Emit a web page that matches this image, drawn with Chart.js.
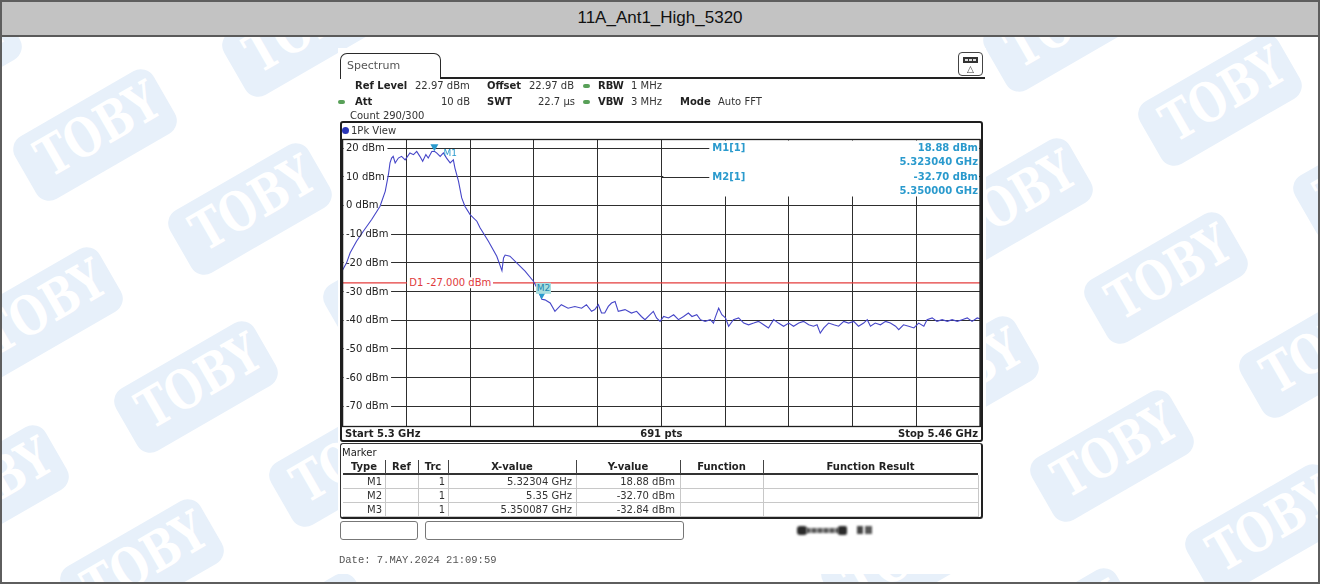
<!DOCTYPE html>
<html>
<head>
<meta charset="utf-8">
<title>11A_Ant1_High_5320</title>
<script src="https://cdn.jsdelivr.net/npm/chart.js@4.4.1/dist/chart.umd.min.js"></script>
<style>
  html, body { margin: 0; padding: 0; background: #fff; }
  body { width: 1320px; height: 584px; position: relative; overflow: hidden; font-family: "DejaVu Sans", sans-serif; }
  .abs { position: absolute; box-sizing: border-box; }
  #outer { left: 0; top: 0; width: 1320px; height: 584px; border: 2px solid #5e5e5e; z-index: 9; pointer-events: none; }
  #titlebar { left: 0; top: 0; width: 1320px; height: 37px; background: #c3c3c3; border-bottom: 2px solid #5a5a5a; z-index: 4;
              font-family: "Liberation Sans", Arial, sans-serif; font-size: 17px; color: #111; text-align: center; line-height: 36px; }
  #wm { left: 0; top: 37px; width: 1320px; height: 547px; overflow: hidden; z-index: 0; }
  .wmk { position: absolute; width: 160px; height: 72px; background: #e7f0fa; border-radius: 15px; color: #fff;
         text-align: center; line-height: 74px; transform: translate(-50%, -50%) rotate(-30deg); }
  .wmk span { display: inline-block; font: bold 54px "DejaVu Serif", serif; transform: scaleX(0.78); }
  #screen { left: 338px; top: 48px; width: 648px; height: 526px; background: #fff; z-index: 1; }
  #cv { position: absolute; left: 0; top: 0; z-index: 2; }
  #layer { left: 0; top: 0; width: 1320px; height: 584px; z-index: 3; pointer-events: none; }
  .t { position: absolute; white-space: nowrap; font-size: 10px; line-height: 1.15; color: #222; transform: translateY(-50%); }
  .b { font-weight: bold; }
  .box { position: absolute; box-sizing: border-box; }
</style>
</head>
<body>
<div id="outer" class="abs"></div>
<div id="titlebar" class="abs">11A_Ant1_High_5320</div>
<div id="wm" class="abs"></div>
<div id="screen" class="abs"></div>
<canvas id="cv" width="1320" height="584" style="width:1320px;height:584px"></canvas>
<div id="layer" class="abs"></div>

<script>
// ---- sweep settings ----
const startGHz = 5.3;
const stopGHz = 5.46;
const refLevel = 22.97;      // dBm, top of the display
const rangeDb = 100;         // dB shown over the 10 divisions
const sweepPoints = 691;
const d1Level = -27.0;       // display line D1

// ---- grid ----
const freqGrid = [5.3, 5.316, 5.332, 5.348, 5.364, 5.38, 5.396, 5.412, 5.428, 5.444, 5.46];
const levelTicks = [20, 10, 0, -10, -20, -30, -40, -50, -60, -70];
const levelLabels = ['20 dBm', '10 dBm', '0 dBm', '-10 dBm', '-20 dBm', '-30 dBm', '-40 dBm', '-50 dBm', '-60 dBm', '-70 dBm'];

// ---- trace 1 (1Pk View) ----
const traceGHz = [
  5.3000, 5.3010, 5.3019, 5.3035, 5.3052, 5.3073, 5.3094, 5.3107, 5.3115, 5.3119,
  5.3123, 5.3127, 5.3132, 5.3140, 5.3148, 5.3157, 5.3169, 5.3178, 5.3186, 5.3194,
  5.3201, 5.3209, 5.3215, 5.3224, 5.32304, 5.3236, 5.3245, 5.3253, 5.3261, 5.3270,
  5.3278, 5.3282, 5.3291, 5.3299, 5.3307, 5.3320, 5.3337, 5.3345, 5.3366, 5.3387,
  5.3400, 5.3404, 5.3408, 5.3420, 5.3437, 5.3458, 5.3479, 5.3492, 5.3500, 5.3508,
  5.3521, 5.3533, 5.3549, 5.3566, 5.3583, 5.3600, 5.3612, 5.3625, 5.3633, 5.3642,
  5.3650, 5.3658, 5.3667, 5.3675, 5.3684, 5.3692, 5.3709, 5.3725, 5.3738, 5.3750,
  5.3759, 5.3771, 5.3780, 5.3788, 5.3797, 5.3806, 5.3818, 5.3831, 5.3843, 5.3856,
  5.3868, 5.3877, 5.3889, 5.3898, 5.3910, 5.3923, 5.3931, 5.3935, 5.3944, 5.3952,
  5.3961, 5.3969, 5.3981, 5.3994, 5.4007, 5.4019, 5.4032, 5.4044, 5.4057, 5.4069,
  5.4082, 5.4094, 5.4107, 5.4120, 5.4132, 5.4145, 5.4157, 5.4170, 5.4182, 5.4191,
  5.4199, 5.4208, 5.4220, 5.4233, 5.4245, 5.4258, 5.4270, 5.4283, 5.4295, 5.4308,
  5.4317, 5.4325, 5.4337, 5.4350, 5.4363, 5.4375, 5.4388, 5.4396, 5.4408, 5.4421,
  5.4434, 5.4446, 5.4459, 5.4467, 5.4480, 5.4492, 5.4505, 5.4518, 5.4530, 5.4543,
  5.4555, 5.4568, 5.4580, 5.4593, 5.4600
];
const traceDbm = [
  -22.5, -20.0, -16.5, -12.5, -9.0, -4.9, -0.3, 4.9, 10.7, 14.8,
  16.5, 17.1, 14.8, 16.5, 17.1, 15.9, 18.3, 17.7, 18.8, 17.1,
  15.4, 17.7, 16.5, 18.8, 18.88, 18.3, 17.1, 18.3, 16.5, 14.8,
  15.9, 13.0, 8.4, 2.6, -0.3, -3.2, -5.5, -7.8, -12.5, -17.7,
  -22.7, -18.3, -17.3, -17.7, -20.0, -22.9, -26.4, -29.8, -32.7, -32.9,
  -34.0, -36.9, -34.6, -35.8, -35.2, -35.8, -34.6, -36.9, -36.3, -34.6,
  -37.5, -37.5, -35.2, -34.0, -33.5, -36.9, -36.3, -37.5, -36.9, -38.7,
  -39.8, -38.1, -36.9, -39.2, -40.4, -38.7, -39.2, -38.1, -39.8, -38.7,
  -37.5, -38.7, -38.1, -39.8, -40.4, -39.8, -41.0, -39.2, -35.8, -38.1,
  -39.2, -42.1, -39.8, -39.2, -41.0, -41.6, -41.0, -40.4, -41.6, -42.7,
  -39.8, -41.0, -42.1, -41.0, -42.1, -41.0, -40.4, -41.6, -42.1, -41.6,
  -44.5, -42.7, -41.0, -41.6, -42.1, -40.4, -41.0, -40.4, -42.1, -41.0,
  -39.8, -42.1, -41.0, -41.6, -40.4, -41.0, -42.1, -43.3, -41.6, -42.1,
  -42.7, -41.0, -42.1, -39.8, -39.2, -40.4, -39.8, -40.4, -39.8, -40.4,
  -39.8, -39.2, -40.4, -39.2, -39.5
];

// ---- markers ----
const markerNames = ['M1', 'M2', 'M3'];
const markerFreq = [5.32304, 5.35, 5.350087];
const markerLevel = [18.88, -32.70, -32.84];

const W = 1320;
const layer = document.getElementById('layer');
const markerColor = '#2a9acd';

function addText(txt, x, y, o = {}) {
  const el = document.createElement('div');
  el.className = 't' + (o.bold ? ' b' : '');
  el.textContent = txt;
  el.style.top = y + 'px';
  if (o.align === 'right') el.style.right = (W - x) + 'px';
  else if (o.align === 'center') { el.style.left = x + 'px'; el.style.transform = 'translate(-50%,-50%)'; }
  else el.style.left = x + 'px';
  if (o.size) el.style.fontSize = o.size + 'px';
  if (o.color) el.style.color = o.color;
  if (o.bg) { el.style.background = o.bg; el.style.padding = o.pad || '0 1px'; }
  if (o.font) el.style.fontFamily = o.font;
  layer.appendChild(el);
  return el;
}
function addBox(x, y, w, h, css) {
  const el = document.createElement('div');
  el.className = 'box';
  Object.assign(el.style, { left: x + 'px', top: y + 'px', width: w + 'px', height: h + 'px' }, css || {});
  layer.appendChild(el);
  return el;
}

// background "TOBY" stamps on a slanted lattice, one patch either side of the analyzer screen
const wm = document.getElementById('wm');
const stepP = [155, 74], stepQ = [54, -178];
[{ origin: [95, 135], xMin: -110, xMax: 430 }, { origin: [1220, 100], xMin: 890, xMax: 1420 }].forEach(patch => {
  for (let k = -4; k <= 4; k++) {
    for (let m = -4; m <= 4; m++) {
      const x = patch.origin[0] + k * stepP[0] + m * stepQ[0];
      const y = patch.origin[1] + k * stepP[1] + m * stepQ[1];
      if (x < patch.xMin || x > patch.xMax || y < -40 || y > 660) continue;
      const s = document.createElement('div');
      s.className = 'wmk';
      const inner = document.createElement('span');
      inner.textContent = 'TOBY';
      s.appendChild(inner);
      s.style.left = x + 'px';
      s.style.top = (y - 37) + 'px';
      wm.appendChild(s);
    }
  }
});

// plot-area decorations: label gaps, readout panel, plot border, marker symbols
const screenPlugin = {
  id: 'screen',
  beforeDatasetsDraw(chart) {
    const { ctx, chartArea: a, scales: { x, y } } = chart;
    ctx.save();
    ctx.fillStyle = '#fff';
    ctx.font = '10px "DejaVu Sans"';
    levelTicks.forEach((v, i) => {
      const py = y.getPixelForValue(v);
      const w = ctx.measureText(levelLabels[i]).width;
      ctx.fillRect(a.left + 1, py - 2.5, w + 5, 5);
    });
    // marker readout panel in the upper right corner
    const panelLeft = x.getPixelForValue(freqGrid[5]) + 2;
    const panelBottom = a.top + 57;
    ctx.fillRect(panelLeft, a.top + 1, a.right - panelLeft - 1, panelBottom - a.top - 1);
    ctx.strokeStyle = '#2e2e2e';
    ctx.lineWidth = 1;
    [levelTicks[0], levelTicks[1]].forEach(v => {
      const py = Math.round(y.getPixelForValue(v)) + 0.5;
      ctx.beginPath(); ctx.moveTo(panelLeft - 2, py); ctx.lineTo(panelLeft + 46, py); ctx.stroke();
    });
    ctx.restore();
  },
  afterDatasetsDraw(chart) {
    const { ctx, chartArea: a, scales: { x, y } } = chart;
    ctx.save();
    ctx.fillStyle = markerColor;
    [0, 1].forEach(i => {
      const px = x.getPixelForValue(markerFreq[i]);
      const py = y.getPixelForValue(markerLevel[i]);
      ctx.beginPath();
      ctx.moveTo(px, py);
      ctx.lineTo(px - 4, py - 7);
      ctx.lineTo(px + 4, py - 7);
      ctx.closePath();
      ctx.fill();
    });
    ctx.strokeStyle = '#1e1e1e';
    ctx.lineWidth = 1.3;
    ctx.strokeRect(a.left, a.top, a.right - a.left, a.bottom - a.top);
    ctx.restore();
  }
};

const chart = new Chart(document.getElementById('cv'), {
  type: 'line',
  data: {
    datasets: [
      {
        label: 'Trc 1',
        data: traceGHz.map((f, i) => ({ x: f, y: traceDbm[i] })),
        borderColor: '#4646c8', borderWidth: 1.1, pointRadius: 0, tension: 0, order: 1
      },
      {
        label: 'D1',
        data: [{ x: startGHz, y: d1Level }, { x: stopGHz, y: d1Level }],
        borderColor: '#e43c3c', borderWidth: 1.1, pointRadius: 0, order: 2
      }
    ]
  },
  options: {
    responsive: false,
    animation: false,
    devicePixelRatio: 1,
    events: [],
    layout: { padding: { left: 342.6, right: 340, top: 139.5, bottom: 157.5 } },
    plugins: { legend: { display: false }, tooltip: { enabled: false } },
    scales: {
      x: {
        type: 'linear', min: startGHz, max: stopGHz,
        afterBuildTicks: s => { s.ticks = freqGrid.map(v => ({ value: v })); },
        afterFit: s => { s.height = 0; },
        ticks: { display: false },
        grid: { color: '#2e2e2e', lineWidth: 1, drawTicks: false },
        border: { display: false }
      },
      y: {
        type: 'linear', min: refLevel - rangeDb, max: refLevel,
        afterBuildTicks: s => { s.ticks = levelTicks.map(v => ({ value: v })); },
        afterFit: s => { s.width = 0; },
        ticks: { display: false },
        grid: { color: '#2e2e2e', lineWidth: 1, drawTicks: false },
        border: { display: false }
      }
    }
  },
  plugins: [screenPlugin]
});

const xs = chart.scales.x, ys = chart.scales.y, area = chart.chartArea;

// ---- analyzer header ----
addBox(340, 53, 101, 26, { border: '1.5px solid #2a2a2a', borderBottom: 'none', borderRadius: '7px 7px 0 0' });
addText('Spectrum', 347, 65.5, { size: 11, color: '#555' });
addBox(440, 77, 545, 2, { background: '#222' });
addBox(958, 52, 25, 24, { border: '1.3px solid #444', borderRadius: '4px' });
addBox(963, 57, 15, 6, { background: '#333', border: '1px solid #333' });
addBox(965, 59, 3, 2, { background: '#ddd' });
addBox(969, 59, 3, 2, { background: '#ddd' });
addBox(973, 59, 3, 2, { background: '#ddd' });
addText('\u25B3', 970.5, 69, { align: 'center', size: 9, color: '#333' });

addText('Ref Level', 355, 86, { bold: true });
addText('22.97 dBm', 415, 86, { color: '#333' });
addText('Offset', 487, 86, { bold: true });
addText('22.97 dB', 529, 86, { color: '#333' });
addBox(583, 84, 7, 4, { background: '#58a058', borderRadius: '2px' });
addText('RBW', 598, 86, { bold: true });
addText('1 MHz', 631, 86, { color: '#333' });

addBox(338, 100, 7, 4, { background: '#58a058', borderRadius: '2px' });
addText('Att', 355, 102, { bold: true });
addText('10 dB', 470, 102, { align: 'right', color: '#333' });
addText('SWT', 487, 102, { bold: true });
addText('22.7 \u00B5s', 575, 102, { align: 'right', color: '#333' });
addBox(583, 100, 7, 4, { background: '#58a058', borderRadius: '2px' });
addText('VBW', 598, 102, { bold: true });
addText('3 MHz', 631, 102, { color: '#333' });
addText('Mode', 680, 102, { bold: true });
addText('Auto FFT', 718, 102, { color: '#333' });
addText('Count 290/300', 350, 115.5, { color: '#333' });

// ---- diagram frame ----
addBox(340, 121, 643, 321, { border: '2px solid #1e1e1e', borderRadius: '3px' });
addBox(342, 127, 7, 7, { background: '#2a36b8', borderRadius: '50%' });
addText('1Pk View', 351, 131, { color: '#333' });

levelTicks.forEach((v, i) => addText(levelLabels[i], area.left + 3.4, ys.getPixelForValue(v), { color: '#222' }));

addText('D1 ' + d1Level.toFixed(3) + ' dBm', xs.getPixelForValue(freqGrid[1]) + 1, ys.getPixelForValue(d1Level),
        { color: '#e03a3a', bg: '#fff', pad: '0 2px' });

// marker flags on the trace
addText(markerNames[0], xs.getPixelForValue(markerFreq[0]) + 9, ys.getPixelForValue(markerLevel[0]) + 2,
        { size: 9, color: markerColor });
addText(markerNames[1], xs.getPixelForValue(markerFreq[1]) - 6, ys.getPixelForValue(markerLevel[1]) - 11,
        { size: 9, color: '#1d86b0', bg: '#a9dede', pad: '0 1px' });

// marker readout
const roLabel = xs.getPixelForValue(freqGrid[5]) + 51;
const roRight = area.right - 2;
const lvl20 = ys.getPixelForValue(levelTicks[0]), lvl10 = ys.getPixelForValue(levelTicks[1]);
addText(markerNames[0] + '[1]', roLabel, lvl20, { bold: true, color: markerColor });
addText(markerLevel[0].toFixed(2) + ' dBm', roRight, lvl20, { bold: true, color: markerColor, align: 'right' });
addText(markerFreq[0].toFixed(6) + ' GHz', roRight, lvl20 + 14, { bold: true, color: markerColor, align: 'right' });
addText(markerNames[1] + '[1]', roLabel, lvl10, { bold: true, color: markerColor });
addText(markerLevel[1].toFixed(2) + ' dBm', roRight, lvl10, { bold: true, color: markerColor, align: 'right' });
addText(markerFreq[1].toFixed(6) + ' GHz', roRight, lvl10 + 14, { bold: true, color: markerColor, align: 'right' });

// footer of the diagram
addText('Start ' + startGHz + ' GHz', 345, 434, { bold: true });
addText(sweepPoints + ' pts', (area.left + area.right) / 2, 434, { bold: true, align: 'center' });
addText('Stop ' + stopGHz + ' GHz', 978, 434, { bold: true, align: 'right' });

// ---- marker table ----
addBox(340, 443, 643, 76, { border: '1.5px solid #333', borderRight: '2px solid #222', borderBottom: '2px solid #222', borderRadius: '3px' });
addText('Marker', 342, 452.5, { color: '#222' });
const cols = [343, 385, 418, 448, 576, 680, 763, 978];
const heads = ['Type', 'Ref', 'Trc', 'X-value', 'Y-value', 'Function', 'Function Result'];
heads.forEach((h, i) => addText(h, (cols[i] + cols[i + 1]) / 2, 467, { bold: true, align: 'center', color: '#222' }));
addBox(343, 473, 635, 2, { background: '#333' });
for (let i = 1; i < cols.length - 1; i++) addBox(cols[i], 460, 1, 14, { background: '#444' });
for (let r = 0; r < 3; r++) {
  const top = 475 + r * 14;
  addBox(343, top + 13, 635, 1, { background: '#c8c8c8' });
  for (let i = 1; i < cols.length; i++) addBox(cols[i], top, 1, 14, { background: '#c8c8c8' });
  const cy = top + 6.5;
  addText(markerNames[r], cols[1] - 3, cy, { align: 'right', color: '#333' });
  addText('1', cols[3] - 3, cy, { align: 'right', color: '#333' });
  addText(markerFreq[r] + ' GHz', cols[4] - 4, cy, { align: 'right', color: '#333' });
  addText(markerLevel[r].toFixed(2) + ' dBm', cols[5] - 5, cy, { align: 'right', color: '#333' });
}

// ---- status bar ----
addBox(340, 521, 78, 19, { border: '1px solid #777', borderRadius: '3px' });
addBox(425, 521, 259, 19, { border: '1px solid #777', borderRadius: '3px' });
addBox(797, 526, 10, 9, { background: '#2a2a2a', borderRadius: '3px', filter: 'blur(0.8px)' });
addBox(806, 528, 33, 5, { background: 'repeating-linear-gradient(90deg,#555 0 4px,#999 4px 6px)', filter: 'blur(0.8px)' });
addBox(838, 526, 9, 9, { background: '#2a2a2a', borderRadius: '2px', filter: 'blur(0.8px)' });
addBox(857, 526, 6, 8, { background: '#444', filter: 'blur(1px)' });
addBox(865, 526, 7, 8, { background: '#555', filter: 'blur(1px)' });

addText('Date: 7.MAY.2024  21:09:59', 339, 560, { font: '"Liberation Mono", "Courier New", monospace', size: 10.5, color: '#555' });
</script>
</body>
</html>
